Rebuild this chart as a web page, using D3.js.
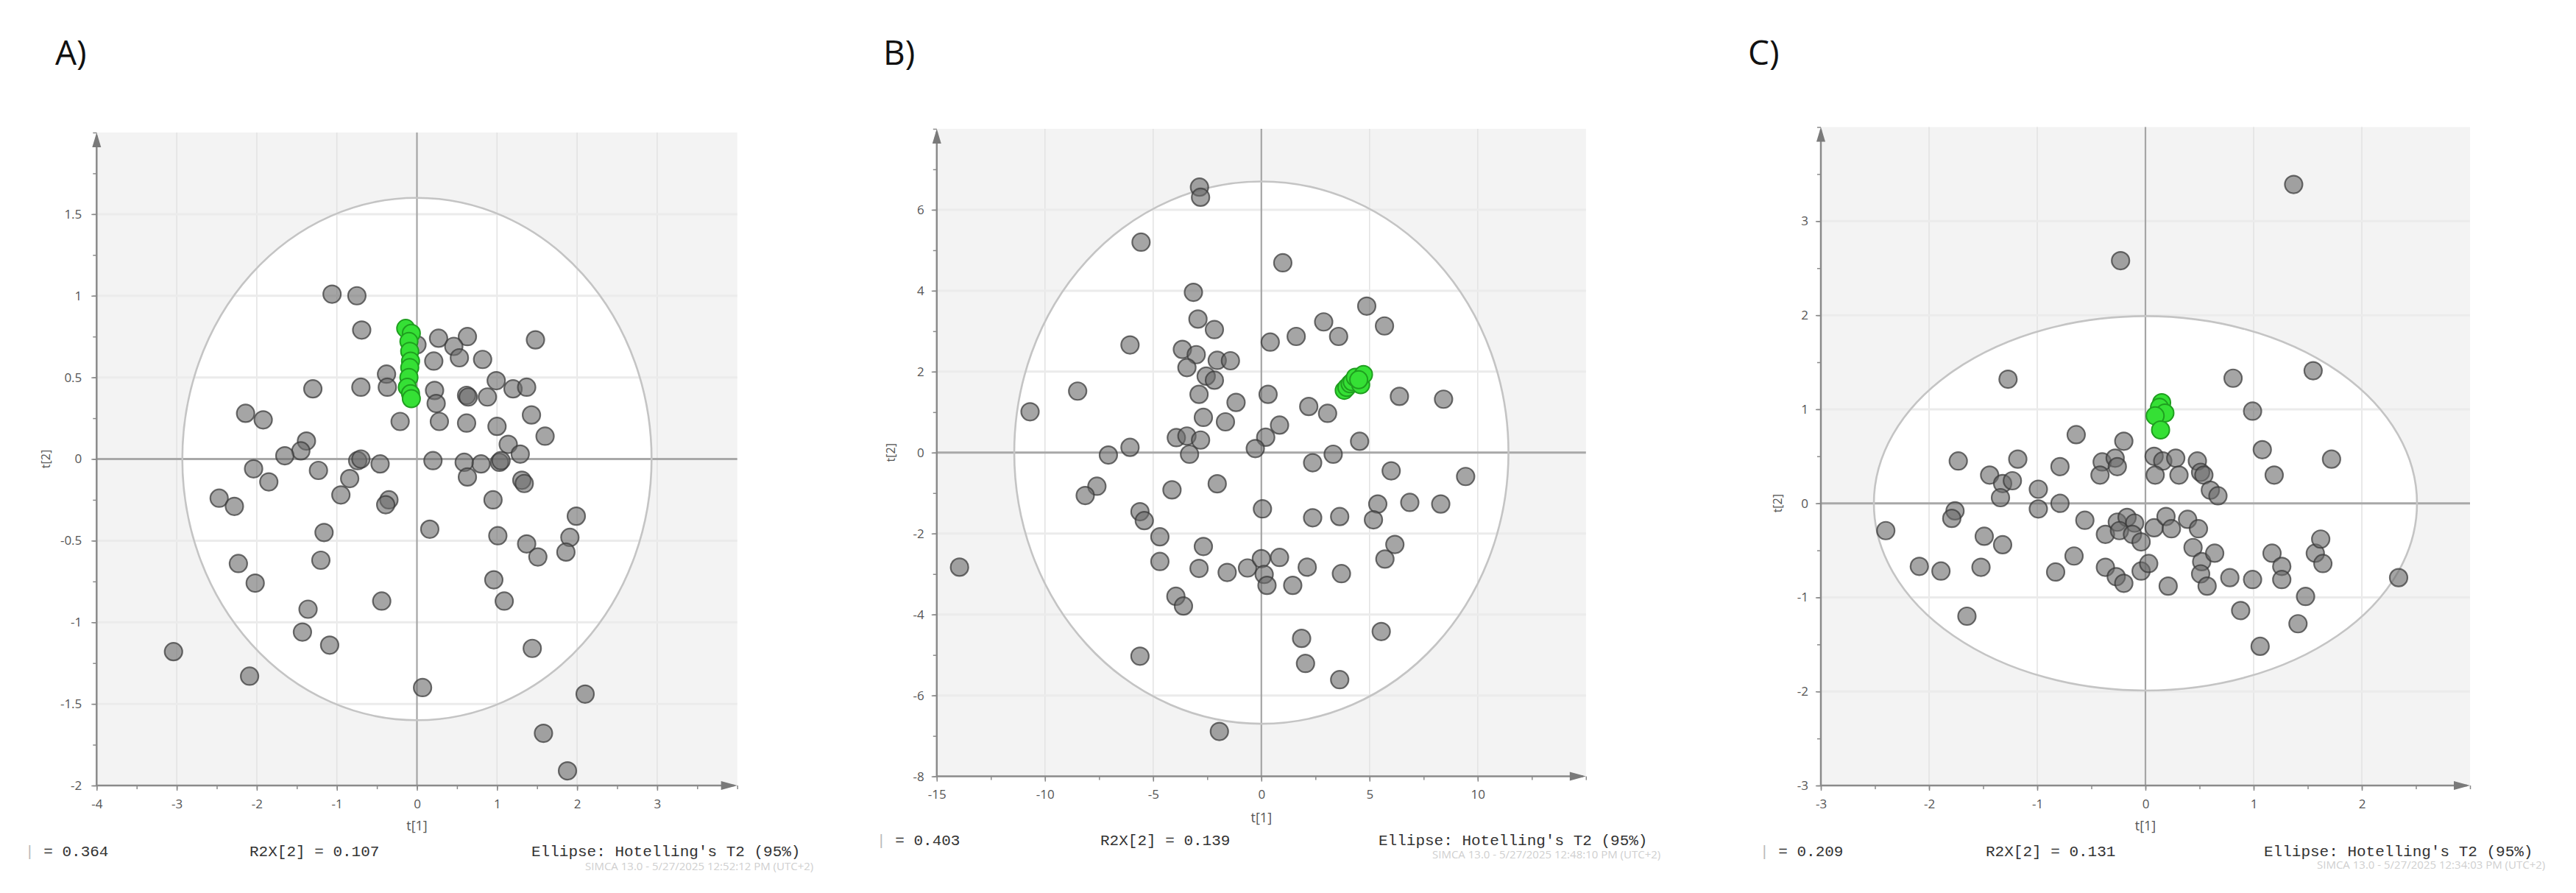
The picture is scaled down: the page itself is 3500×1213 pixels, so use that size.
<!DOCTYPE html>
<html>
<head>
<meta charset="utf-8">
<script src="https://cdn.jsdelivr.net/npm/d3@7"></script>
<style>
  html, body { margin: 0; padding: 0; background: #fff; }
  svg { display: block; }
</style>
</head>
<body>
<svg id="chart" width="3500" height="1213"></svg>
<script>
// ---------------- DATA ----------------
const panelLabels = ["A)", "B)", "C)"];

// Panel A scores (t[1], t[2])
const aGray = [[-1.06,1.01],[-0.75,1.00],[-0.69,0.79],[0.00,0.70],[0.27,0.74],[0.63,0.75],[0.46,0.69],[0.53,0.62],[0.82,0.61],[1.48,0.73],[0.21,0.60],[-0.38,0.52],[-0.37,0.44],[-0.70,0.44],[-1.30,0.43],[0.22,0.42],[0.24,0.34],[0.62,0.39],[0.64,0.38],[0.88,0.38],[0.99,0.48],[1.20,0.43],[1.37,0.44],[1.43,0.27],[1.60,0.14],[0.62,0.22],[1.00,0.20],[0.28,0.23],[-0.21,0.23],[-2.14,0.28],[-1.92,0.24],[-1.38,0.11],[-1.45,0.05],[-1.65,0.02],[1.14,0.09],[1.29,0.03],[1.03,-0.02],[1.05,-0.01],[0.80,-0.03],[0.59,-0.02],[0.20,-0.01],[-0.46,-0.03],[-0.74,-0.01],[-0.70,0.00],[-2.04,-0.06],[-1.23,-0.07],[-2.47,-0.24],[-2.28,-0.29],[-1.85,-0.14],[-0.84,-0.12],[-0.95,-0.22],[-0.35,-0.25],[-0.39,-0.28],[0.63,-0.11],[0.95,-0.25],[1.31,-0.13],[1.34,-0.15],[0.16,-0.43],[-1.16,-0.45],[-1.20,-0.62],[1.01,-0.47],[1.37,-0.52],[1.51,-0.60],[1.91,-0.48],[1.86,-0.57],[1.99,-0.35],[-2.23,-0.64],[-2.02,-0.76],[0.96,-0.74],[1.09,-0.87],[-0.44,-0.87],[-1.36,-0.92],[-1.43,-1.06],[-1.09,-1.14],[-3.04,-1.18],[1.44,-1.16],[-2.09,-1.33],[0.07,-1.40],[2.10,-1.44],[1.58,-1.68],[1.88,-1.91]];
const aGreen = [[-0.14,0.80],[-0.07,0.77],[-0.10,0.72],[-0.09,0.66],[-0.08,0.60],[-0.09,0.56],[-0.10,0.50],[-0.12,0.44],[-0.08,0.40],[-0.07,0.37]];

// Panel B scores
const bGray = [[-2.86,6.56],[-2.81,6.31],[-5.56,5.20],[0.99,4.69],[-3.14,3.96],[-2.93,3.30],[-2.17,3.04],[2.88,3.23],[3.57,2.87],[4.87,3.62],[5.69,3.13],[1.61,2.87],[0.41,2.73],[-6.07,2.66],[-3.65,2.55],[-3.01,2.42],[-2.04,2.28],[-1.43,2.27],[-3.44,2.10],[-2.55,1.89],[-2.17,1.79],[-2.88,1.44],[0.31,1.44],[-8.49,1.52],[-10.69,1.01],[-1.17,1.24],[-2.68,0.87],[-1.66,0.76],[0.84,0.68],[2.19,1.14],[3.06,0.97],[6.38,1.39],[8.42,1.32],[4.54,0.28],[0.20,0.38],[-3.93,0.37],[-3.44,0.41],[-2.81,0.31],[-6.07,0.13],[-7.07,-0.06],[-3.32,-0.04],[-0.28,0.10],[2.37,-0.25],[3.32,-0.04],[6.00,-0.45],[9.44,-0.59],[-7.60,-0.83],[-8.14,-1.06],[-4.13,-0.92],[-2.04,-0.77],[0.05,-1.39],[5.38,-1.27],[6.86,-1.23],[8.29,-1.27],[2.37,-1.61],[3.62,-1.58],[5.18,-1.66],[-5.61,-1.46],[-5.41,-1.68],[-4.69,-2.08],[-2.68,-2.32],[6.17,-2.27],[5.71,-2.63],[-4.69,-2.69],[-2.88,-2.86],[-1.58,-2.96],[-0.64,-2.85],[0.00,-2.62],[0.84,-2.59],[0.13,-3.01],[0.26,-3.28],[1.45,-3.28],[2.12,-2.83],[3.70,-2.99],[-3.95,-3.55],[-3.60,-3.79],[1.86,-4.59],[5.54,-4.42],[2.04,-5.21],[-5.61,-5.03],[3.62,-5.61],[-1.94,-6.89],[-13.95,-2.83]];
const bGreen = [[3.83,1.54],[3.95,1.61],[4.10,1.70],[4.20,1.75],[4.34,1.86],[4.59,1.68],[4.72,1.93],[4.50,1.80]];

// Panel C scores
const cGray = [[1.37,3.39],[-0.23,2.58],[-1.27,1.32],[0.81,1.33],[1.55,1.41],[0.99,0.98],[1.08,0.57],[1.19,0.30],[1.72,0.47],[-0.64,0.73],[-0.20,0.66],[-1.73,0.45],[-1.18,0.47],[-0.79,0.39],[-0.40,0.44],[-0.28,0.48],[-0.26,0.39],[-0.42,0.30],[-1.44,0.30],[-1.32,0.21],[-1.23,0.24],[-1.34,0.06],[-0.99,0.15],[-0.99,-0.06],[-0.79,0.00],[-1.76,-0.08],[-1.79,-0.16],[-2.40,-0.29],[-1.49,-0.35],[-1.32,-0.44],[-2.09,-0.67],[-1.89,-0.72],[-1.52,-0.68],[-1.65,-1.20],[-0.66,-0.56],[-0.83,-0.73],[-0.56,-0.18],[-0.37,-0.33],[-0.26,-0.20],[-0.17,-0.15],[-0.10,-0.21],[-0.24,-0.29],[-0.12,-0.33],[-0.04,-0.41],[-0.37,-0.68],[-0.27,-0.78],[-0.20,-0.85],[-0.04,-0.72],[0.03,-0.64],[0.08,-0.26],[0.19,-0.14],[0.24,-0.27],[0.39,-0.17],[0.49,-0.27],[0.44,-0.47],[0.52,-0.62],[0.64,-0.53],[0.51,-0.75],[0.57,-0.88],[0.21,-0.88],[0.78,-0.79],[0.99,-0.81],[1.17,-0.53],[1.26,-0.67],[1.26,-0.81],[1.57,-0.53],[1.62,-0.38],[1.64,-0.64],[2.34,-0.79],[1.48,-0.99],[0.88,-1.14],[1.41,-1.28],[1.06,-1.52],[0.08,0.50],[0.16,0.45],[0.28,0.48],[0.31,0.30],[0.48,0.45],[0.51,0.33],[0.54,0.30],[0.09,0.30],[0.60,0.14],[0.67,0.08]];
const cGreen = [[0.15,1.07],[0.13,1.02],[0.18,0.96],[0.09,0.93],[0.14,0.78]];

// Axis ticks
const aXTicks = [-4,-3,-2,-1,0,1,2,3];
const aYTicks = [-2,-1.5,-1,-0.5,0,0.5,1,1.5];
const bXTicks = [-15,-10,-5,0,5,10];
const bYTicks = [-8,-6,-4,-2,0,2,4,6];
const cXTicks = [-3,-2,-1,0,1,2];
const cYTicks = [-3,-2,-1,0,1,2,3];

// Hotelling's T2 (95%) ellipse semi-axes [t1, t2]
const aEllipse = [2.93, 1.60];
const bEllipse = [11.42, 6.70];
const cEllipse = [2.51, 1.99];

// Footer texts
const aFooter = ["= 0.364", "R2X[2] = 0.107", "Ellipse: Hotelling's T2 (95%)", "SIMCA 13.0 - 5/27/2025 12:52:12 PM (UTC+2)"];
const bFooter = ["= 0.403", "R2X[2] = 0.139", "Ellipse: Hotelling's T2 (95%)", "SIMCA 13.0 - 5/27/2025 12:48:10 PM (UTC+2)"];
const cFooter = ["= 0.209", "R2X[2] = 0.131", "Ellipse: Hotelling's T2 (95%)", "SIMCA 13.0 - 5/27/2025 12:34:03 PM (UTC+2)"];

// ---------------- LAYOUT ----------------
const svg = d3.select("#chart");

const panels = [
  { label: panelLabels[0], labelX: 75, labelY: 88,
    left: 131.3, right: 1001.7, top: 180, bottom: 1067,
    xDomain: [-4, 4], yDomain: [-2, 2], xTicks: aXTicks, yTicks: aYTicks,
    xMinorStep: 0.5, yMinorStep: 0.25,
    gray: aGray, green: aGreen, ell: aEllipse, footer: aFooter,
    xLabY: 1099, tLabY: 1128, yLabGap: 20, t2X: 68,
    footY: 1163, footX: [34, 339, 722], wmX: 795, wmY: 1182 },
  { label: panelLabels[1], labelX: 1200, labelY: 88,
    left: 1272.8, right: 2154.8, top: 175, bottom: 1054.6,
    xDomain: [-15, 15], yDomain: [-8, 8], xTicks: bXTicks, yTicks: bYTicks,
    xMinorStep: 2.5, yMinorStep: 1,
    gray: bGray, green: bGreen, ell: bEllipse, footer: bFooter,
    xLabY: 1086, tLabY: 1117, yLabGap: 17, t2X: 1216,
    footY: 1148, footX: [1191, 1495, 1873], wmX: 1946, wmY: 1166 },
  { label: panelLabels[2], labelX: 2375, labelY: 88,
    left: 2474, right: 3356, top: 172.6, bottom: 1067,
    xDomain: [-3, 3], yDomain: [-3, 4], xTicks: cXTicks, yTicks: cYTicks,
    xMinorStep: 0.5, yMinorStep: 0.5,
    gray: cGray, green: cGreen, ell: cEllipse, footer: cFooter,
    xLabY: 1099, tLabY: 1128, yLabGap: 17, t2X: 2421,
    footY: 1163, footX: [2391, 2698, 3076], wmX: 3148, wmY: 1180 }
];

function range(a, b, step) {
  const out = [];
  for (let v = a; v <= b + 1e-9; v += step) out.push(+v.toFixed(6));
  return out;
}

function drawPanel(p) {
  const g = svg.append("g");
  const x = d3.scaleLinear().domain(p.xDomain).range([p.left, p.right]);
  const y = d3.scaleLinear().domain(p.yDomain).range([p.bottom, p.top]);

  // panel letter
  svg.append("text").attr("x", p.labelX).attr("y", p.labelY)
    .attr("font-family", "'Open Sans', 'Noto Sans', sans-serif")
    .attr("font-size", 46).attr("fill", "#111").text(p.label);

  // plot background
  g.append("rect").attr("x", p.left).attr("y", p.top)
    .attr("width", p.right - p.left).attr("height", p.bottom - p.top)
    .attr("fill", "#f3f3f3");

  // ellipse interior
  g.append("ellipse")
    .attr("cx", x(0)).attr("cy", y(0))
    .attr("rx", x(p.ell[0]) - x(0)).attr("ry", y(0) - y(p.ell[1]))
    .attr("fill", "#ffffff");

  // grid
  const gx = p.xTicks.filter(v => v !== 0 && v !== p.xDomain[0]);
  const gy = p.yTicks.filter(v => v !== 0 && v !== p.yDomain[0]);
  g.selectAll(".gx").data(gx).join("line")
    .attr("x1", d => x(d)).attr("x2", d => x(d))
    .attr("y1", p.top).attr("y2", p.bottom)
    .attr("stroke", "#e2e2e2").attr("stroke-width", 1.5);
  g.selectAll(".gy").data(gy).join("line")
    .attr("x1", p.left).attr("x2", p.right)
    .attr("y1", d => y(d)).attr("y2", d => y(d))
    .attr("stroke", "#ebebeb").attr("stroke-width", 3);

  // zero lines
  g.append("line").attr("x1", x(0)).attr("x2", x(0)).attr("y1", p.top).attr("y2", p.bottom)
    .attr("stroke", "#a5a5a5").attr("stroke-width", 2.2);
  g.append("line").attr("x1", p.left).attr("x2", p.right).attr("y1", y(0)).attr("y2", y(0))
    .attr("stroke", "#a8a8a8").attr("stroke-width", 3);

  // ellipse outline
  g.append("ellipse")
    .attr("cx", x(0)).attr("cy", y(0))
    .attr("rx", x(p.ell[0]) - x(0)).attr("ry", y(0) - y(p.ell[1]))
    .attr("fill", "none").attr("stroke", "#c4c4c4").attr("stroke-width", 2.6);

  // axes (minor ticks)
  const xMinor = range(p.xDomain[0], p.xDomain[1], p.xMinorStep);
  const yMinor = range(p.yDomain[0], p.yDomain[1], p.yMinorStep);
  const axMinorX = g.append("g").attr("transform", `translate(0,${p.bottom})`)
    .call(d3.axisBottom(x).tickValues(xMinor).tickSize(5).tickFormat(""));
  const axMinorY = g.append("g").attr("transform", `translate(${p.left},0)`)
    .call(d3.axisLeft(y).tickValues(yMinor).tickSize(5).tickFormat(""));
  [axMinorX, axMinorY].forEach(a => {
    a.select(".domain").remove();
    a.selectAll(".tick line").attr("stroke", "#8a8a8a").attr("stroke-width", 1.5);
  });

  // major tick labels
  const axX = g.append("g").attr("transform", `translate(0,${p.bottom})`)
    .call(d3.axisBottom(x).tickValues(p.xTicks).tickSize(7).tickPadding(p.xLabY - p.bottom - 20).tickFormat(d => String(d)));
  const axY = g.append("g").attr("transform", `translate(${p.left},0)`)
    .call(d3.axisLeft(y).tickValues(p.yTicks).tickSize(7).tickPadding(p.yLabGap - 7).tickFormat(d => String(d)));
  [axX, axY].forEach(a => {
    a.select(".domain").remove();
    a.selectAll(".tick line").attr("stroke", "#8a8a8a").attr("stroke-width", 1.5);
    a.selectAll(".tick text").attr("fill", "#555").attr("font-size", 17)
      .attr("font-family", "'Open Sans', 'Liberation Sans', sans-serif");
  });

  // axis lines with arrows
  g.append("line").attr("x1", p.left).attr("x2", p.left).attr("y1", p.top + 4).attr("y2", p.bottom)
    .attr("stroke", "#8a8a8a").attr("stroke-width", 2.5);
  g.append("line").attr("x1", p.left).attr("x2", p.right - 4).attr("y1", p.bottom).attr("y2", p.bottom)
    .attr("stroke", "#8a8a8a").attr("stroke-width", 2.5);
  g.append("path")
    .attr("d", `M${p.left},${p.top} L${p.left - 6},${p.top + 20} L${p.left + 6},${p.top + 20} Z`)
    .attr("fill", "#7a7a7a");
  g.append("path")
    .attr("d", `M${p.right},${p.bottom} L${p.right - 22},${p.bottom - 6} L${p.right - 22},${p.bottom + 6} Z`)
    .attr("fill", "#7a7a7a");

  // axis titles
  svg.append("text").attr("x", x(0)).attr("y", p.tLabY).attr("text-anchor", "middle")
    .attr("font-family", "'Open Sans', 'Liberation Sans', sans-serif").attr("font-size", 18)
    .attr("fill", "#555").text("t[1]");
  svg.append("text").attr("transform", `translate(${p.t2X},${y(0)}) rotate(-90)`)
    .attr("text-anchor", "middle")
    .attr("font-family", "'Open Sans', 'Liberation Sans', sans-serif").attr("font-size", 16)
    .attr("fill", "#555").text("t[2]");

  // points
  g.selectAll(".pg").data(p.gray).join("circle")
    .attr("cx", d => x(d[0])).attr("cy", d => y(d[1])).attr("r", 12)
    .attr("fill", "rgba(105,105,105,0.6)")
    .attr("stroke", "rgba(55,55,55,0.72)").attr("stroke-width", 2.2);
  g.selectAll(".pgr").data(p.green).join("circle")
    .attr("cx", d => x(d[0])).attr("cy", d => y(d[1])).attr("r", 12)
    .attr("fill", "#35e035")
    .attr("stroke", "#1f9e1f").attr("stroke-width", 2);

  // footer
  const mono = "'Liberation Mono', 'DejaVu Sans Mono', monospace";
  const f0 = svg.append("text").attr("x", p.footX[0]).attr("y", p.footY)
    .attr("font-family", mono).attr("font-size", 21).attr("fill", "#333");
  f0.append("tspan").attr("fill", "#bbb").text("| ");
  f0.append("tspan").text(p.footer[0]);
  svg.append("text").attr("x", p.footX[1]).attr("y", p.footY)
    .attr("font-family", mono).attr("font-size", 21).attr("fill", "#333").text(p.footer[1]);
  svg.append("text").attr("x", p.footX[2]).attr("y", p.footY)
    .attr("font-family", mono).attr("font-size", 21).attr("fill", "#333").text(p.footer[2]);
  svg.append("text").attr("x", p.wmX).attr("y", p.wmY)
    .attr("font-family", "'Open Sans', 'Liberation Sans', sans-serif").attr("font-size", 15)
    .attr("fill", "#cfcfcf").text(p.footer[3]);
}

panels.forEach(drawPanel);
</script>
</body>
</html>
